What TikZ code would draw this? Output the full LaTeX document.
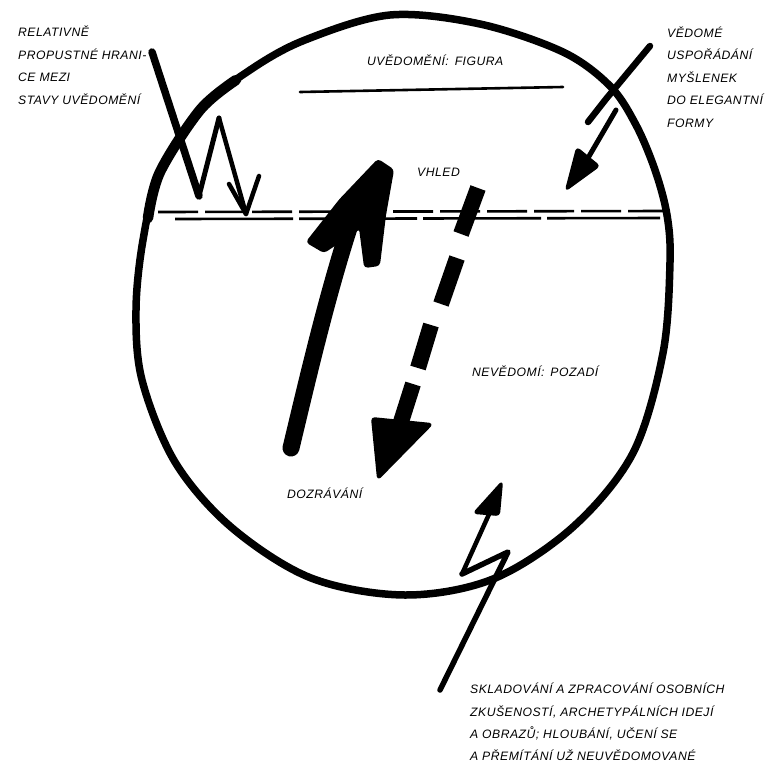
\documentclass[tikz,border=0pt]{standalone}
\usepackage{fontspec}
\newfontfamily\lblfont{Liberation Sans}[LetterSpace=4]
\begin{document}
\begin{tikzpicture}[x=1pt,y=-1pt,
  lbl/.style={inner sep=0pt, anchor=base west, font=\lblfont\itshape\fontsize{12.2}{14}\selectfont},
  ink/.style={line join=round, line cap=round},
  boundary/.style={line width=2.6pt},
  brush/.style={ink, line width=#1},
  head/.style={fill=black, draw=black, line width=2pt, rounded corners=3pt, line join=round}]
\useasboundingbox (0,0) rectangle (765,763);

% semi-permeable boundary between the states of awareness (double dashed line)
\draw[boundary, dash pattern=on 40pt off 7pt] (158,212) -- (666,211);
\draw[boundary, dash pattern=on 118pt off 6pt] (175,219) -- (660,218);

% figure line in the conscious part
\draw[line width=2.6pt, line cap=round] (300,92) -- (563,87);

% the circle of the psyche
\draw[brush=7.5pt] plot[smooth cycle, tension=0.55] coordinates {
  (390,15) (480,24) (563,52) (610,86) (636,125) (655,170) (667,215) (670,262)
  (663,353) (633,453) (573,527) (493,579) (405,595) (311,578) (231,527)
  (175,462) (142,380) (136,310) (143,240) (160,172) (200,110) (250,70) (305,40)};
% heavier brush stroke on the upper left of the circle
\draw[brush=10.5pt] plot[smooth, tension=0.55] coordinates {(148,218) (160,172) (200,110) (236,80)};

% zig-zag arrow through the boundary (top left)
\coordinate (zA) at (152,52);
\coordinate (zB) at (199,196);
\coordinate (zC) at (219,118);
\coordinate (zD) at (246,214);
\draw[brush=7.5pt] (zA) -- (zB);
\draw[brush=5pt] (zB) -- (zC);
\draw[brush=4.5pt] (zC) -- (zD);
\draw[brush=4.5pt] (229,184) -- (zD) -- (259,176);

% conscious ordering of thoughts (top right)
\coordinate (rA) at (650,46);
\coordinate (rB) at (606,99);
\draw[brush=6.5pt] (rA) -- (rB) -- (588,122);
\draw[brush=5pt] (616,110) -- (588,158);
\draw[head] (577,148) -- (599,166) -- (566,190) -- cycle;

% maturation: big arrow up
\draw[line width=17pt, line cap=round] (291,448) .. controls (312,360) and (332,275) .. (360,195);
\draw[head] (378,160) -- (393,170) -- (385,215) -- (379,265) -- (365,267)
  -- (360,228) -- (324,252) -- (307,242) -- (340,200) -- cycle;

% insight: dashed arrow down
\draw[line width=16pt] (478,188) -- (461,234);
\draw[line width=16pt] (457,258) -- (441,304);
\draw[line width=16pt] (431,325) -- (418,368);
\draw[line width=16pt] (413,384) -- (400,425);
\draw[head] (372,418) -- (432,424) -- (378,479) -- cycle;

% storage and processing (bottom)
\coordinate (bA) at (440,690);
\coordinate (bB) at (508,552);
\coordinate (bC) at (462,574);
\draw[brush=5.5pt] (bA) -- (bB) -- (bC);
\draw[brush=4.5pt] (bC) -- (490,512);
\draw[head] (502,482) -- (499,515) -- (474,513) -- cycle;

% labels
\node[lbl] (fig) at (367,65) {UVĚDOMĚNÍ:\, FIGURA};
\node[lbl] (ins) at (417,176) {VHLED};
\node[lbl] (bg) at (472,376) {NEVĚDOMÍ:\, POZADÍ};
\node[lbl] (mat) at (287,498) {DOZRÁVÁNÍ};

\node[lbl] (l1) at (18,36) {RELATIVNĚ};
\node[lbl] (l2) at (18,59) {PROPUSTNÉ HRANI-};
\node[lbl] (l3) at (18,81.5) {CE MEZI};
\node[lbl] (l4) at (18,104) {STAVY UVĚDOMĚNÍ};

\node[lbl] (r1) at (667,37) {VĚDOMÉ};
\node[lbl] (r2) at (667,59.5) {USPOŘÁDÁNÍ};
\node[lbl] (r3) at (667,82) {MYŠLENEK};
\node[lbl] (r4) at (667,104.5) {DO ELEGANTNÍ};
\node[lbl] (r5) at (667,127) {FORMY};

\node[lbl] (b1) at (470,693) {SKLADOVÁNÍ A ZPRACOVÁNÍ OSOBNÍCH};
\node[lbl] (b2) at (470,716.5) {ZKUŠENOSTÍ, ARCHETYPÁLNÍCH IDEJÍ};
\node[lbl] (b3) at (470,738.5) {A OBRAZŮ; HLOUBÁNÍ, UČENÍ SE};
\node[lbl] (b4) at (470,760) {A PŘEMÍTÁNÍ UŽ NEUVĚDOMOVANÉ};
\end{tikzpicture}
\end{document}
